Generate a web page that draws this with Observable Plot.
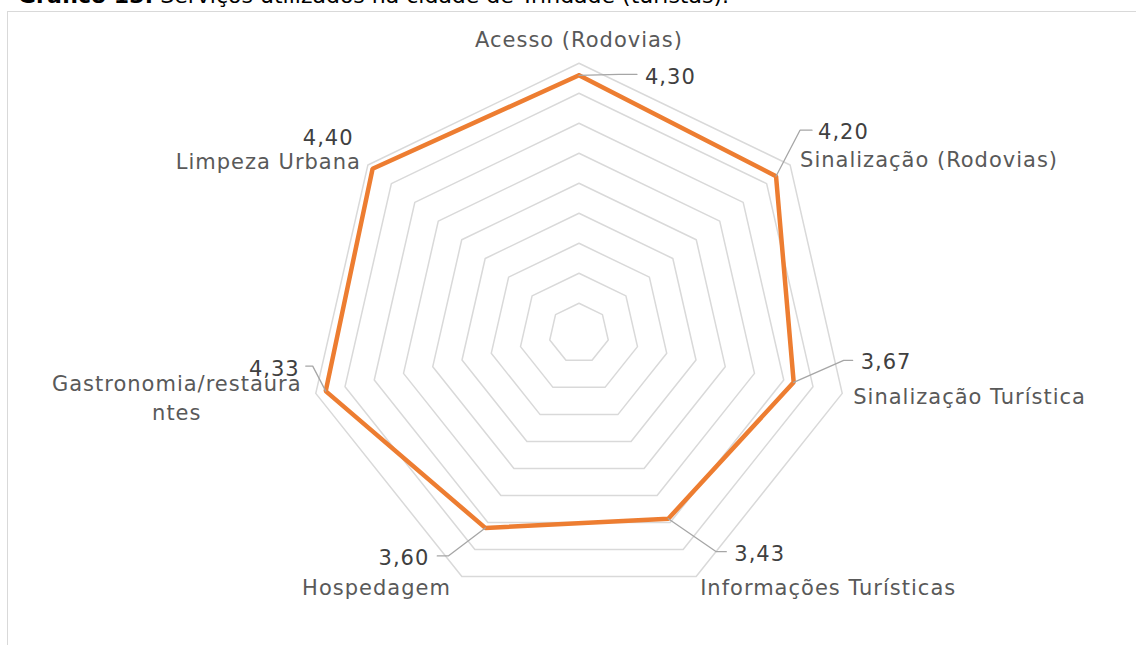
<!DOCTYPE html>
<html><head><meta charset="utf-8">
<script src="https://cdn.jsdelivr.net/npm/d3@7"></script>
<script src="https://cdn.jsdelivr.net/npm/@observablehq/plot@0.6"></script>
<style>
html,body{margin:0;padding:0;background:#fff;overflow:hidden;}
#wrap{position:relative;width:1136px;height:645px;overflow:hidden;}
#title{position:absolute;left:18px;top:-15px;font-family:"DejaVu Sans",sans-serif;font-size:22px;line-height:22px;color:#000;white-space:nowrap;}
#frame{position:absolute;left:7px;top:11px;width:1200px;height:700px;border:1.5px solid #d9d9d9;box-sizing:border-box;}
#chart{position:absolute;left:0;top:0;}
#chart svg text{letter-spacing:1px;}
</style></head><body>
<div id="wrap">
<div id="frame"></div>
<div id="title"><b>Gráfico 13:</b> Serviços utilizados na cidade de Trindade (turistas).</div>
<div id="chart"></div>
</div>
<script>
// ---- data ----
const categories = ["Acesso (Rodovias)", "Sinalização (Rodovias)", "Sinalização Turística", "Informações Turísticas", "Hospedagem", "Gastronomia/restaura\nntes", "Limpeza Urbana"];
const values = [4.30, 4.20, 3.67, 3.43, 3.60, 4.33, 4.40];
const gridLevels = [0.5, 1.0, 1.5, 2.0, 2.5, 3.0, 3.5, 4.0, 4.5];
const maxLevel = 4.5;

// ---- layout (styling, pixel offsets) ----
const W = 1136, H = 645, PX = 60, CX = 578.5, CY = 332.8;
// value label leader: elbow offset, end offset, text offset (px from data point), anchor
const valueLayout = [
  {elbow:[40,-1], end:[58,-1], text:[66,0], anchor:"start"},
  {elbow:[24,-46], end:[36,-46], text:[42,-46], anchor:"start"},
  {elbow:[50,-22], end:[59,-22], text:[67,-22], anchor:"start"},
  {elbow:[48,33], end:[58,33], text:[66,33], anchor:"start"},
  {elbow:[-37,28], end:[-48,28], text:[-56,28], anchor:"end"},
  {elbow:[-13,-25], end:[-20,-25], text:[-26,-24], anchor:"end"},
  {elbow:null, end:null, text:[-19,-33], anchor:"end"}
];
// category label offsets (px from outer ring vertex)
const catLayout = [
  {d:[0,-25], anchor:"middle"},
  {d:[10,-7], anchor:"start"},
  {d:[11,2], anchor:"start"},
  {d:[4,9], anchor:"start"},
  {d:[-11,9], anchor:"end"},
  {d:[-139,3], anchor:"middle"},
  {d:[-7,-5], anchor:"end"}
];

const N = categories.length;
const ang = i => i * 2 * Math.PI / N;
const polar = (i, r) => ({x: r * Math.sin(ang(i)), y: r * Math.cos(ang(i))});
const shift = (p, d) => ({x: p.x + d[0] / PX, y: p.y - d[1] / PX});

const gridData = gridLevels.flatMap(l => d3.range(N + 1).map(k => ({level: l, ...polar(k % N, l)})));
const series = d3.range(N + 1).map(k => polar(k % N, values[k % N]));

const leaders = [];
const vLabels = [];
values.forEach((v, i) => {
  const p = polar(i, v);
  const L = valueLayout[i];
  if (L.elbow) {
    leaders.push({id: i, ...p});
    leaders.push({id: i, ...shift(p, L.elbow)});
    leaders.push({id: i, ...shift(p, L.end)});
  }
  vLabels.push({text: v.toFixed(2).replace(".", ","), anchor: L.anchor, ...shift(p, L.text)});
});
const cLabels = categories.map((c, i) => ({text: c, anchor: catLayout[i].anchor, ...shift(polar(i, maxLevel), catLayout[i].d)}));

const font = "DejaVu Sans, sans-serif";
const textMarks = (data, fill) => ["start", "middle", "end"].map(a =>
  Plot.text(data.filter(d => d.anchor === a), {x: "x", y: "y", text: "text", textAnchor: a, fill, fontSize: 21, fontFamily: font, lineHeight: 1.35}));

const chart = Plot.plot({
  width: W, height: H,
  margin: 0,
  x: {domain: [-CX / PX, (W - CX) / PX], range: [0, W], axis: null},
  y: {domain: [-(H - CY) / PX, CY / PX], range: [H, 0], axis: null},
  style: {background: "transparent", fontFamily: font},
  marks: [
    Plot.line(gridData, {x: "x", y: "y", z: "level", stroke: "#d9d9d9", strokeWidth: 1.5, curve: "linear"}),
    Plot.line(series, {x: "x", y: "y", stroke: "#ED7D31", strokeWidth: 4.5, strokeLinejoin: "miter", curve: "linear"}),
    Plot.line(leaders, {x: "x", y: "y", z: "id", stroke: "#a6a6a6", strokeWidth: 1.3, curve: "linear"}),
    ...textMarks(cLabels, "#595959"),
    ...textMarks(vLabels, "#404040")
  ]
});
document.getElementById("chart").appendChild(chart);
</script>
</body></html>
